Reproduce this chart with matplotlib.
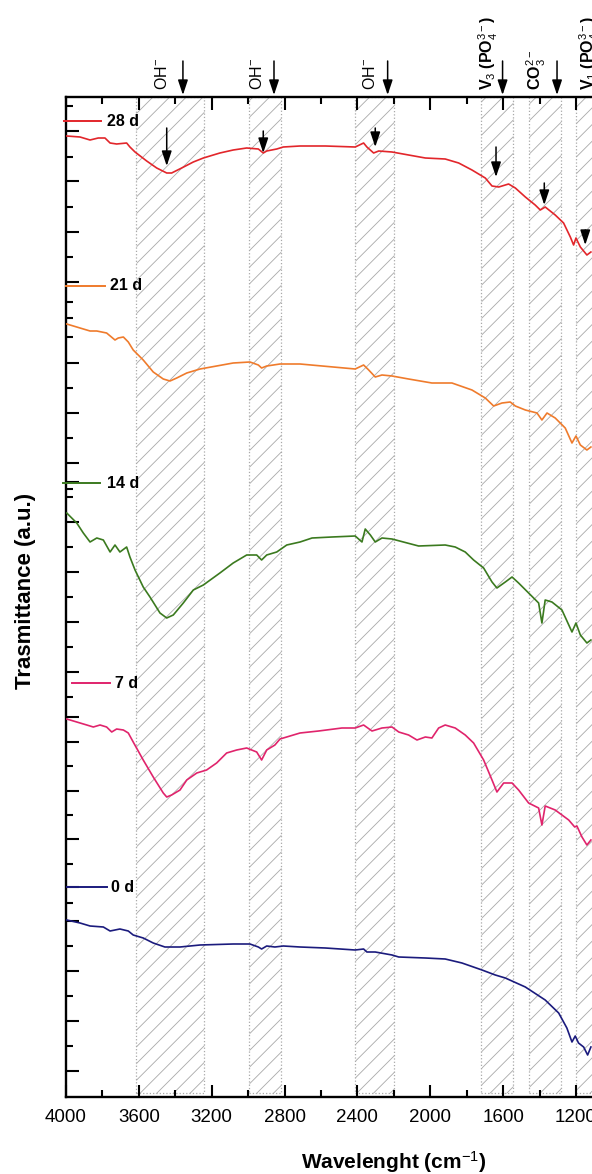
import matplotlib
matplotlib.use('Agg')
import matplotlib.pyplot as plt
from matplotlib.ticker import MultipleLocator, FixedLocator

plt.rcParams['font.family'] = ['Liberation Sans', 'DejaVu Sans']
plt.rcParams['mathtext.fontset'] = 'custom'
plt.rcParams['mathtext.rm'] = 'Liberation Sans'
plt.rcParams['mathtext.it'] = 'Liberation Sans:italic'
plt.rcParams['mathtext.bf'] = 'Liberation Sans:bold'
plt.rcParams['hatch.linewidth'] = 0.6

## FTIR spectra: wavenumber (cm-1) vs stacked transmittance (a.u.)
wn_28 = [3996, 3923, 3868, 3823, 3786, 3758, 3722, 3667, 3649, 3621, 3557, 3502, 3447, 3420,
         3365, 3301, 3246, 3155, 3082, 3008, 2944, 2917, 2898, 2843, 2807, 2715, 2576, 2412,
         2366, 2348, 2311, 2283, 2210, 2119, 2027, 1918, 1844, 1771, 1698, 1661, 1624, 1570,
         1533, 1478, 1424, 1396, 1369, 1314, 1268, 1231, 1213, 1200, 1176, 1140, 1118]
tr_28 = [96.1, 96.0, 95.7, 95.9, 95.9, 95.4, 95.3, 95.4, 95.0, 94.5, 93.6, 92.9, 92.4, 92.4,
         92.9, 93.5, 93.9, 94.4, 94.7, 94.9, 94.8, 94.4, 94.6, 94.8, 95.0, 95.1, 95.1, 95.0,
         95.4, 95.0, 94.4, 94.6, 94.5, 94.2, 93.9, 93.8, 93.4, 92.7, 91.9, 91.1, 91.0, 91.3,
         90.9, 90.0, 89.2, 88.7, 89.0, 88.2, 87.4, 86.0, 85.2, 85.9, 85.0, 84.2, 84.5]

wn_21 = [3996, 3923, 3868, 3831, 3777, 3731, 3713, 3685, 3658, 3631, 3576, 3521, 3466, 3429,
         3392, 3337, 3264, 3173, 3082, 2990, 2944, 2926, 2898, 2825, 2715, 2412, 2366, 2338,
         2302, 2265, 2210, 2119, 1991, 1881, 1771, 1698, 1652, 1606, 1561, 1533, 1478, 1414,
         1387, 1359, 1314, 1259, 1222, 1200, 1176, 1140, 1118]
tr_21 = [77.3, 76.9, 76.6, 76.6, 76.4, 75.7, 75.9, 76.0, 75.5, 74.7, 73.7, 72.5, 71.8, 71.6,
         71.9, 72.4, 72.8, 73.1, 73.4, 73.5, 73.2, 72.9, 73.1, 73.3, 73.3, 72.8, 73.2, 72.7,
         72.0, 72.2, 72.1, 71.8, 71.4, 71.4, 70.7, 69.9, 69.1, 69.4, 69.5, 69.1, 68.7, 68.4,
         67.7, 68.4, 67.9, 66.9, 65.4, 66.1, 65.2, 64.7, 65.0]

wn_14 = [3996, 3941, 3905, 3868, 3831, 3795, 3758, 3731, 3704, 3667, 3649, 3621, 3576, 3539,
         3484, 3447, 3411, 3356, 3301, 3246, 3155, 3082, 3008, 2953, 2926, 2898, 2843, 2788,
         2715, 2649, 2540, 2412, 2375, 2357, 2329, 2302, 2265, 2210, 2064, 1918, 1863, 1808,
         1762, 1707, 1661, 1634, 1588, 1551, 1515, 1460, 1405, 1387, 1369, 1332, 1277, 1222,
         1200, 1176, 1140, 1118]
tr_14 = [58.4, 57.4, 56.4, 55.5, 55.9, 55.7, 54.5, 55.2, 54.5, 55.0, 54.0, 52.7, 51.0, 50.0,
         48.4, 47.9, 48.2, 49.4, 50.7, 51.2, 52.4, 53.4, 54.2, 54.2, 53.7, 54.2, 54.5, 55.2,
         55.5, 55.9, 56.0, 56.1, 55.5, 56.8, 56.2, 55.5, 55.9, 55.8, 55.1, 55.2, 55.0, 54.5,
         53.7, 52.9, 51.5, 50.9, 51.5, 52.0, 51.4, 50.4, 49.4, 47.4, 49.7, 49.5, 48.7, 46.5,
         47.4, 46.2, 45.4, 45.7]

wn_7 = [3996, 3941, 3886, 3850, 3813, 3777, 3749, 3722, 3685, 3658, 3631, 3576, 3521, 3466,
        3447, 3420, 3374, 3337, 3282, 3228, 3173, 3118, 3063, 3008, 2953, 2926, 2898, 2853,
        2825, 2770, 2715, 2613, 2485, 2412, 2366, 2320, 2265, 2210, 2173, 2119, 2073, 2027,
        1991, 1954, 1918, 1863, 1808, 1762, 1707, 1661, 1634, 1597, 1551, 1515, 1460, 1405,
        1387, 1369, 1314, 1240, 1207, 1195, 1167, 1140, 1118]
tr_7 = [37.8, 37.5, 37.2, 37.0, 37.2, 37.0, 36.5, 36.8, 36.7, 36.4, 35.5, 33.7, 32.0, 30.4,
        30.0, 30.2, 30.7, 31.7, 32.4, 32.7, 33.4, 34.4, 34.7, 34.9, 34.5, 33.7, 34.7, 35.2,
        35.8, 36.1, 36.4, 36.6, 36.9, 36.9, 37.2, 36.6, 36.9, 37.0, 36.5, 36.2, 35.7, 36.0,
        35.9, 36.9, 37.2, 36.9, 36.2, 35.4, 33.7, 31.7, 30.5, 31.4, 31.4, 30.7, 29.4, 28.9,
        27.2, 29.1, 28.7, 27.7, 27.0, 27.1, 26.0, 25.2, 25.7]

wn_0 = [3996, 3923, 3868, 3795, 3758, 3704, 3658, 3631, 3576, 3521, 3457, 3374, 3264, 3082,
        2990, 2944, 2926, 2898, 2853, 2807, 2715, 2576, 2412, 2366, 2348, 2302, 2210, 2173,
        2027, 1918, 1826, 1716, 1643, 1588, 1478, 1369, 1295, 1250, 1222, 1204, 1186, 1158,
        1136, 1118]
tr_0 = [17.7, 17.4, 17.1, 17.0, 16.6, 16.8, 16.6, 16.2, 15.9, 15.4, 15.0, 15.0, 15.2, 15.3,
        15.3, 15.0, 14.8, 15.1, 15.0, 15.1, 15.0, 14.9, 14.7, 14.8, 14.5, 14.5, 14.2, 14.0,
        13.9, 13.8, 13.4, 12.7, 12.2, 11.9, 11.0, 9.7, 8.4, 6.9, 5.5, 6.1, 5.4, 5.0,
        4.2, 5.0]

labels = ['28 d', '21 d', '14 d', '7 d', '0 d']
colors = ['#e2262b', '#ef7b2c', '#3b7a1f', '#e0246c', '#1b1b7d']
spectra = [(wn_28, tr_28), (wn_21, tr_21), (wn_14, tr_14), (wn_7, tr_7), (wn_0, tr_0)]

# hatched band regions (cm-1)
band_start = [3616, 2994, 2412, 1720, 1456, 1202]
band_end = [3244, 2820, 2199, 1545, 1281, 1000]

# band assignments above the frame
top_text = ['OH$^{-}$', 'OH$^{-}$', 'OH$^{-}$', 'V$_{3}$ (PO$_{4}^{3-}$)',
            'CO$_{3}^{2-}$', 'V$_{1}$ (PO$_{4}^{3-}$)']
top_text_wn = [3473, 2950, 2331, 1683, 1420, 1128]
top_text_bold = [False, False, False, True, True, True]
top_arrow_wn = [3358, 2858, 2234, 1603, 1304]

# arrows on the 28 d curve
peak_wn = [3447, 2917, 2302, 1639, 1374, 1149]
peak_from = [96.9, 96.6, 96.9, 95.0, 91.4, 86.7]
peak_to = [93.1, 94.4, 95.0, 92.0, 89.2, 85.2]

# label key, placed at the left edge
key_y = [97.6, 81.1, 61.4, 41.4, 21.0]
key_x0 = [4011, 4000, 4016, 3967, 3995]
key_x1 = [3808, 3786, 3813, 3758, 3775]
key_tx = [3775, 3758, 3775, 3731, 3753]

yt_major = [96.6, 91.6, 86.5, 81.5, 73.4, 68.4, 63.4, 61.5, 57.5, 52.5, 47.5, 42.5, 38.0,
            35.5, 30.6, 25.8, 21.0, 17.6, 12.6, 7.6, 2.6]
yt_minor = [99.1, 94.0, 89.0, 84.0, 79.5, 77.9, 76.0, 70.9, 65.9, 60.8, 60.0, 55.0, 50.0,
            45.0, 40.0, 33.1, 28.2, 23.3, 19.4, 15.1, 10.1, 5.1]

fig = plt.figure(figsize=(5.92, 11.74), dpi=100)
ax = fig.add_axes([66 / 592, 77 / 1174, 526 / 592, 1000 / 1174])

for s, e in zip(band_start, band_end):
    ax.axvspan(s, e, ymin=0.004, ymax=1.0, facecolor='none', edgecolor='#a9a9a9',
               hatch='//', linestyle=':', linewidth=0.9, zorder=1)

for (w, t), c in zip(spectra, colors):
    ax.plot(w, t, color=c, lw=1.2, zorder=3)

for lab, c, y, x0, x1, tx in zip(labels, colors, key_y, key_x0, key_x1, key_tx):
    ax.plot([x0, x1], [y, y], color=c, lw=1.4, clip_on=False, zorder=4)
    ax.text(tx, y, lab, fontsize=11.5, fontweight='bold', ha='left', va='center', zorder=4)

astyle = '-|>,head_length=0.6,head_width=0.2'
for w, y0, y1 in zip(peak_wn, peak_from, peak_to):
    ax.annotate('', xy=(w, y1), xytext=(w, y0),
                arrowprops=dict(arrowstyle=astyle, color='k', lw=1.1, mutation_scale=15,
                                shrinkA=0, shrinkB=0), zorder=5)

for w in top_arrow_wn:
    ax.annotate('', xy=(w, 100.2), xytext=(w, 103.6), annotation_clip=False,
                arrowprops=dict(arrowstyle=astyle, color='k', lw=1.1, mutation_scale=15,
                                shrinkA=0, shrinkB=0))

for txt, w, b in zip(top_text, top_text_wn, top_text_bold):
    ax.text(w, 100.7, txt, rotation=90, ha='center', va='bottom', fontsize=11.5,
            fontweight='bold' if b else 'normal', clip_on=False)

ax.set_xlim(4000, 1112)
ax.set_ylim(0, 100)

ax.xaxis.set_major_locator(MultipleLocator(400))
ax.xaxis.set_minor_locator(MultipleLocator(200))
ax.yaxis.set_major_locator(FixedLocator(yt_major))
ax.yaxis.set_minor_locator(FixedLocator(yt_minor))

ax.tick_params(axis='x', which='both', direction='in', top=True, bottom=True,
               labeltop=False, labelsize=13.5, pad=9, width=1.5)
ax.tick_params(axis='y', which='both', direction='in', left=True, right=False,
               labelleft=False, width=1.5)
ax.tick_params(which='major', length=9)
ax.tick_params(which='minor', length=5)

for side in ['left', 'bottom', 'top']:
    ax.spines[side].set_linewidth(1.7)
ax.spines['right'].set_visible(False)

fig.text(26 / 592, 1 - 591 / 1174, 'Trasmittance (a.u.)', rotation=90, ha='center',
         va='center', fontsize=16, fontweight='bold')
fig.text(394 / 592, 1 - 1162 / 1174, 'Wavelenght (cm$^{-1}$)', ha='center', va='center',
         fontsize=15, fontweight='bold')

fig.savefig('out.png', dpi=100)
